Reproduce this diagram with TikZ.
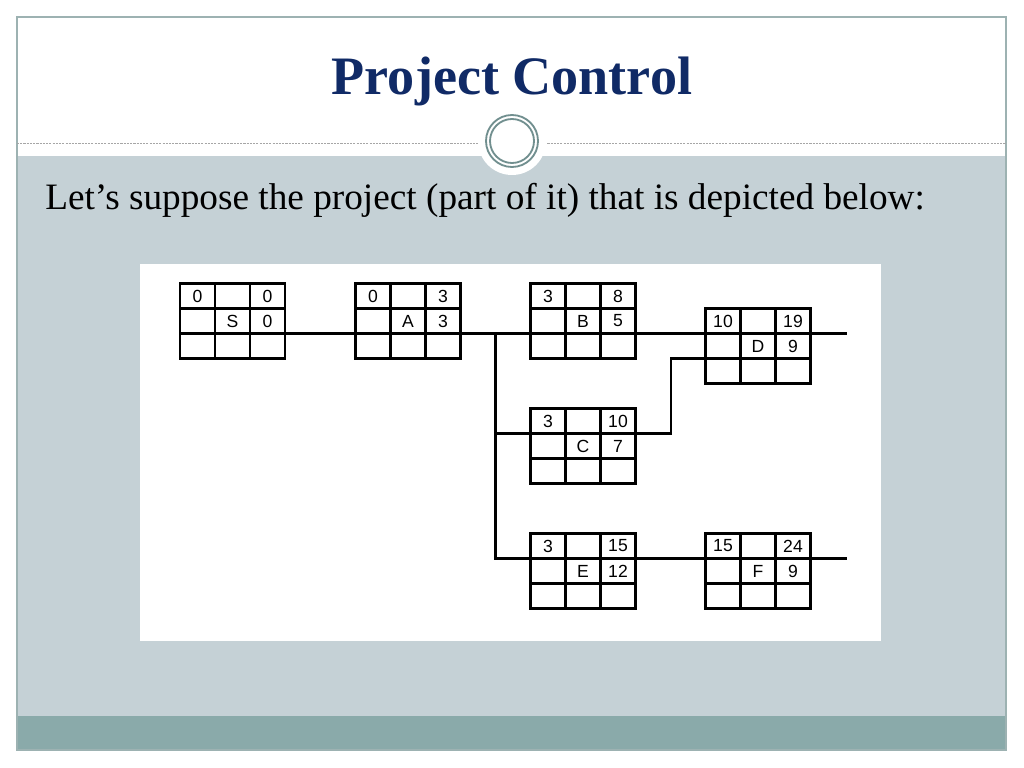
\documentclass[tikz,border=0pt]{standalone}
\usepackage{fontspec}
\setmainfont{Liberation Serif}
\newfontfamily\cellfont{Liberation Sans}
\usepackage{tikz}
\usetikzlibrary{calc,positioning}
\definecolor{slidebg}{HTML}{C5D1D6}
\definecolor{bandbg}{HTML}{8AAAAA}
\definecolor{framec}{HTML}{9DB2B2}
\definecolor{ringc}{HTML}{718F8F}
\definecolor{titlec}{HTML}{102A66}
\tikzset{
  actbox/.style={draw,line width=1.5pt,inner sep=0pt,outer sep=0pt,
    minimum width=2.625cm,minimum height=1.875cm},
  cellline/.style={line width=1.5pt},
  link/.style={line width=1.5pt},
  cell/.style={inner sep=0pt,font=\cellfont\fontsize{12.5}{13}\selectfont},
  every node/.style={font=\small}
}
% one activity box: name, x, y (top left), ES, EF, label, duration
\newcommand{\actbox}[7]{%
  \node[actbox] (#1) at (#2+52.5,#3+37.5) {};
  \draw[cellline] (#2+35,#3) -- ++(0,75) (#2+70,#3) -- ++(0,75)
    (#2,#3+25) -- ++(105,0) (#2,#3+50) -- ++(105,0);
  \coordinate (#1-w1) at (#2,#3+25);
  \coordinate (#1-e1) at (#2+105,#3+25);
  \coordinate (#1-w2) at (#2,#3+50);
  \coordinate (#1-e2) at (#2+105,#3+50);
  \node[cell] (#1-es) at (#2+17.5,#3+12.5) {#4};
  \node[cell] (#1-ef) at (#2+87.5,#3+12.5) {#5};
  \node[cell] (#1-id) at (#2+52.5,#3+37.5) {#6};
  \node[cell] (#1-du) at (#2+87.5,#3+37.5) {#7};
}

\begin{document}
\begin{tikzpicture}[x=0.025cm,y=-0.025cm]
  \useasboundingbox (0,0) rectangle (1024,768);
  % slide
  \fill[white] (0,0) rectangle (1024,768);
  \fill[slidebg] (17,156) rectangle (1006,716);
  \fill[bandbg] (17,716) rectangle (1006,750);
  \draw[framec,line width=0.8pt] (17,17) rectangle (1006,750);
  \draw[gray!70,line width=0.7pt,dash pattern=on 1.5pt off 0.8pt] (17,143) -- (1006,143);
  \fill[white] (512,141) circle (34);
  \draw[ringc,line width=1.3pt] (512,141) circle (26);
  \draw[ringc,line width=1.3pt] (512,141) circle (22);
  \node[anchor=base,text=titlec,font=\fontsize{38.5}{42}\selectfont\bfseries] (title) at (512,95) {Project Control};
  \node[anchor=base west,inner sep=0pt,font=\fontsize{26.5}{30}\selectfont] (intro) at (45,209)
    {Let’s suppose the project (part of it) that is depicted below:};
  \fill[white] (140,264) rectangle (881,641);
  % network
  \actbox{S}{180}{283.5}{0}{0}{S}{0}
  \actbox{A}{355.5}{283.5}{0}{3}{A}{3}
  \actbox{B}{530.5}{283.5}{3}{8}{B}{5}
  \actbox{D}{705.5}{308.5}{10}{19}{D}{9}
  \actbox{C}{530.5}{408.5}{3}{10}{C}{7}
  \actbox{E}{530.5}{533.5}{3}{15}{E}{12}
  \actbox{F}{705.5}{533.5}{15}{24}{F}{9}
  \coordinate (fork) at (495.5,333.5);
  \coordinate (joint) at (671,358.5);
  \coordinate (endD) at (847,333.5);
  \coordinate (endF) at (847,558.5);
  \draw[link] (S-e2) -- (A-w2);
  \draw[link] (A-e2) -- (B-w2);
  \draw[link] (B-e2) -- (D-w1);
  \draw[link] (D-e1) -- (endD);
  \draw[link] (fork) |- (E-w1);
  \draw[link] (fork |- C-w1) -- (C-w1);
  \draw[link] (C-e1) -| (joint) -- (D-w2);
  \draw[link] (E-e1) -- (F-w1);
  \draw[link] (F-e1) -- (endF);
\end{tikzpicture}
\end{document}
